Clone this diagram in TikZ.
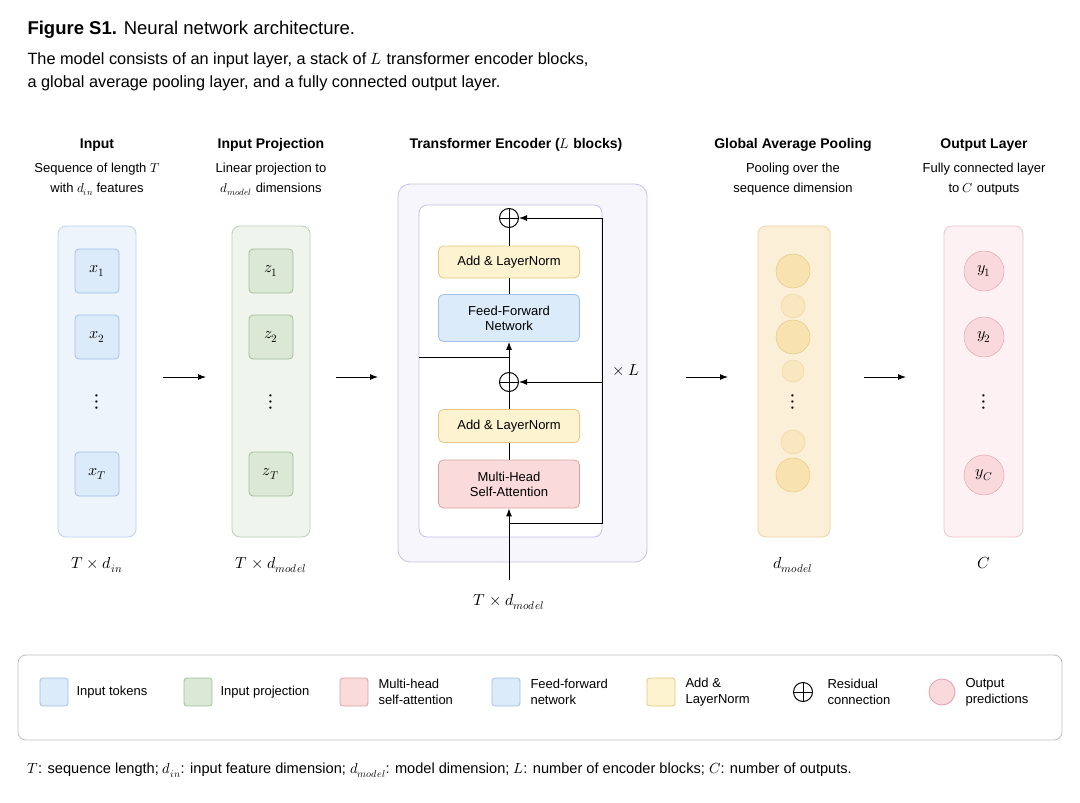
\documentclass[tikz,border=0pt]{standalone}
\usepackage{fontspec}
\usepackage{unicode-math}
\setmainfont{Liberation Sans}
\setmathfont{Latin Modern Math}
\usetikzlibrary{arrows.meta}
\definecolor{bF}{HTML}{DCEBFA}\definecolor{bD}{HTML}{A0C0E8}
\definecolor{gF}{HTML}{DCE8D6}\definecolor{gD}{HTML}{A0BE98}
\definecolor{rF}{HTML}{FADADB}\definecolor{rD}{HTML}{DCA0A0}
\definecolor{yF}{HTML}{FDF3D0}\definecolor{yD}{HTML}{E4C880}
\definecolor{pD}{HTML}{C8C0E8}\definecolor{pF}{HTML}{F7F6FC}
\definecolor{cB}{HTML}{EEF4FC}\definecolor{cG}{HTML}{EFF5EC}
\definecolor{cY}{HTML}{FCEFD8}\definecolor{cR}{HTML}{FDF1F3}
\definecolor{oF}{HTML}{F9D9DC}\definecolor{oD}{HTML}{E0A0A8}
\definecolor{pl}{HTML}{F8E2B0}\definecolor{plD}{HTML}{E4C478}
\begin{document}
\begin{tikzpicture}[x=1pt,y=-1pt,
 col/.style={draw=#1,rounded corners=8pt,line width=0.8pt},
 tok/.style={draw=#1,rounded corners=4pt,line width=0.8pt,minimum width=44pt,minimum height=44pt,font=\fontsize{16}{16}\selectfont},
 blk/.style={rounded corners=5pt,line width=0.8pt,minimum width=141pt,font=\fontsize{13}{15}\selectfont,align=center},
 arr/.style={-{Latex[length=8pt,width=6pt]},line width=1pt},
 hd/.style={font=\fontsize{14}{16}\bfseries\selectfont},
 sub/.style={font=\fontsize{13}{20}\selectfont,align=center},
 lab/.style={font=\fontsize{16}{16}\selectfont},
 vd/.style={font=\fontsize{22}{22}\selectfont},
 lg/.style={font=\fontsize{13}{16}\selectfont,align=left,anchor=west},
 opl/.style={circle,draw,line width=1pt,minimum size=19pt,inner sep=0pt,path picture={\draw[line width=1pt] (path picture bounding box.north)--(path picture bounding box.south) (path picture bounding box.west)--(path picture bounding box.east);}}]
\useasboundingbox (0,0) rectangle (1080,803);
\fill[white] (0,0) rectangle (1080,803);
% title
\node[anchor=west,font=\fontsize{18.5}{20}\selectfont] (ti) at (24,30) {\textbf{Figure S1.} Neural network architecture.};
\node[anchor=north west,align=left,font=\fontsize{16.3}{23}\selectfont] (st) at (24,49) {The model consists of an input layer, a stack of $L$ transformer encoder blocks,\\a global average pooling layer, and a fully connected output layer.};
% headers
\node[hd] (h1) at (97,145) {Input};
\node[sub] (s1) at (97,179) {Sequence of length $T$\\with $d_{in}$ features};
\node[hd] (h2) at (271,145) {Input Projection};
\node[sub] (s2) at (271,179) {Linear projection to\\$d_{model}$ dimensions};
\node[hd] (h3) at (516,145) {Transformer Encoder (\textmd{$L$} blocks)};
\node[hd] (h4) at (793,145) {Global Average Pooling};
\node[sub] (s4) at (793,179) {Pooling over the\\sequence dimension};
\node[hd] (h5) at (984,145) {Output Layer};
\node[sub] (s5) at (984,179) {Fully connected layer\\to $C$ outputs};
% input column
\draw[col=bD!70,fill=cB] (58,226) rectangle (136,537);
\node[tok=bD,fill=bF] (x1) at (97,271) {$x_1$};
\node[tok=bD,fill=bF] (x2) at (97,337) {$x_2$};
\node[vd] (xd) at (97,402) {$\vdots$};
\node[tok=bD,fill=bF] (xT) at (97,474) {$x_T$};
\node[lab] (l1) at (97,565) {$T\times d_{in}$};
\coordinate (a1s) at (163,377); \coordinate (a1e) at (206,377);
\draw[arr] (a1s)--(a1e);
% projection
\draw[col=gD!70,fill=cG] (232,226) rectangle (310,537);
\node[tok=gD,fill=gF] (z1) at (271,271) {$z_1$};
\node[tok=gD,fill=gF] (z2) at (271,337) {$z_2$};
\node[vd] (zd) at (271,402) {$\vdots$};
\node[tok=gD,fill=gF] (zT) at (271,474) {$z_T$};
\node[lab] (l2) at (271,565) {$T\times d_{model}$};
\coordinate (a2s) at (336,377); \coordinate (a2e) at (378,377);
\draw[arr] (a2s)--(a2e);
% transformer
\draw[col=pD,fill=pF,rounded corners=12pt] (398,184) rectangle (647,562);
\draw[col=pD,fill=white] (419,205) rectangle (602,537);
\node[opl] (p2) at (509,218) {};
\node[blk,draw=yD,fill=yF,minimum height=32pt] (ln2) at (509,262) {Add \& LayerNorm};
\node[blk,draw=bD,fill=bF,minimum height=47pt] (ffn) at (509,318) {Feed-Forward\\Network};
\node[opl] (p1) at (509,382) {};
\node[blk,draw=yD,fill=yF,minimum height=33pt] (ln1) at (509,426) {Add \& LayerNorm};
\node[blk,draw=rD,fill=rF,minimum height=48pt] (mh) at (509,484) {Multi-Head\\Self-Attention};
\coordinate (in) at (509,580);
\coordinate (br) at (509,523);
\coordinate (rr) at (602,523);
\coordinate (hl) at (419,357);
\draw[line width=1pt] (in)--(br);
\draw[arr] (br)--(mh.south);
\draw[line width=1pt] (br)--(rr)--(602,218);
\draw[arr] (602,382)--(p1.east);
\draw[arr] (602,218)--(p2.east);
\draw[line width=1pt] (mh.north)--(ln1.south) (ln1.north)--(p1.south) (ffn.north)--(ln2.south) (ln2.north)--(p2.south);
\draw[arr] (p1.north)--(ffn.south);
\draw[line width=1pt] (hl)--(509,357);
\node[lab] (xl) at (626,370) {$\times\,L$};
\node[lab] (l3) at (509,602) {$T\times d_{model}$};
\coordinate (a3s) at (686,377); \coordinate (a3e) at (728,377);
\draw[arr] (a3s)--(a3e);
% pooling
\draw[col=plD!70,fill=cY] (758,226) rectangle (830,537);
\foreach \n/\y/\r/\o in {c1/271/17/1,c2/306/12/0.6,c3/337/17/1,c4/371/11/0.6,c6/442/12/0.6,c7/475/17/1}
 \node[circle,draw=plD,fill=pl,fill opacity=\o,draw opacity=\o,minimum size=2*\r pt,inner sep=0pt] (\n) at (793,\y) {};
\node[vd] (cd) at (793,402) {$\vdots$};
\node[lab] (l4) at (793,565) {$d_{model}$};
\coordinate (a4s) at (864,377); \coordinate (a4e) at (906,377);
\draw[arr] (a4s)--(a4e);
% output
\draw[col=oD!60,fill=cR] (944,226) rectangle (1023,537);
\node[circle,draw=oD,fill=oF,minimum size=40pt,inner sep=0pt,font=\fontsize{16}{16}\selectfont] (y1) at (984,271) {$y_1$};
\node[circle,draw=oD,fill=oF,minimum size=40pt,inner sep=0pt,font=\fontsize{16}{16}\selectfont] (y2) at (984,337) {$y_2$};
\node[vd] (yd) at (984,402) {$\vdots$};
\node[circle,draw=oD,fill=oF,minimum size=40pt,inner sep=0pt,font=\fontsize{16}{16}\selectfont] (yC) at (984,475) {$y_C$};
\node[lab] (l5) at (984,563) {$C$};
% legend
\draw[draw=black!25,rounded corners=8pt,line width=0.8pt] (18,655) rectangle (1062,740);
\foreach \n/\x/\d/\f in {g1/54/bD/bF,g2/198/gD/gF,g3/354/rD/rF,g4/506/bD/bF,g5/661/yD/yF}
 \node[draw=\d,fill=\f,line width=0.8pt,minimum size=28pt,inner sep=0pt,rounded corners=3pt] (\n) at (\x,692) {};
\node[lg] (t1) at (73,692) {Input tokens};
\node[lg] (t2) at (217,692) {Input projection};
\node[lg] (t3) at (375,692) {Multi-head\\self-attention};
\node[lg] (t4) at (527,692) {Feed-forward\\network};
\node[lg] (t5) at (682,692) {Add \&\\LayerNorm};
\node[opl] (g6) at (803,692) {};
\node[lg] (t6) at (824,692) {Residual\\connection};
\node[circle,draw=oD,fill=oF,line width=0.8pt,minimum size=26pt] (g7) at (942,692) {};
\node[lg] (t7) at (962,692) {Output\\predictions};
\node[anchor=west,font=\fontsize{14.6}{16}\selectfont] (fn) at (24,770) {$T$: sequence length; $d_{in}$: input feature dimension; $d_{model}$: model dimension; $L$: number of encoder blocks; $C$: number of outputs.};
\end{tikzpicture}
\end{document}
